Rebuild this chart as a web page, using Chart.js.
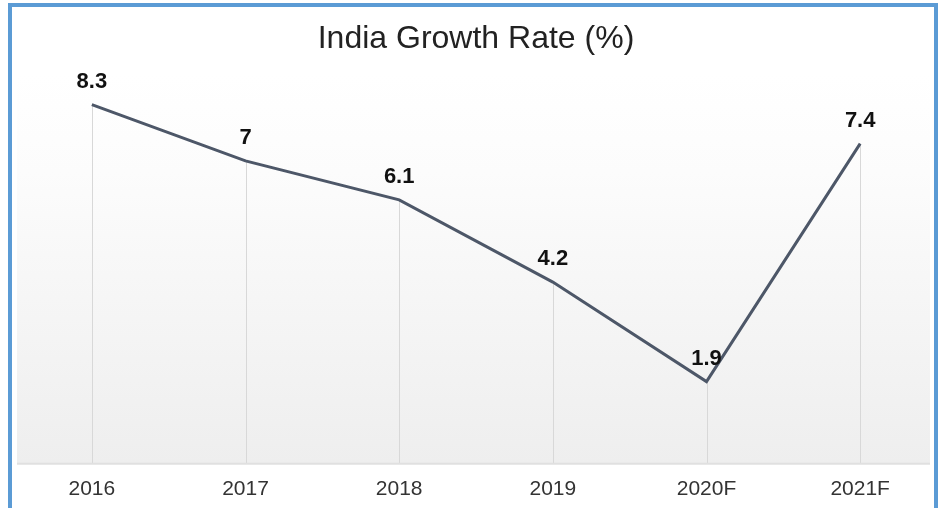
<!DOCTYPE html>
<html>
<head>
<meta charset="utf-8">
<script src="https://cdn.jsdelivr.net/npm/chart.js@4"></script>
<style>
  html, body { margin: 0; padding: 0; background: #fff; }
  #wrap { position: relative; width: 944px; height: 508px; }
  #frame {
    position: absolute; left: 8px; top: 3px; width: 922px; height: 520px;
    border: 4px solid #5b9bd5; pointer-events: none;
  }
</style>
</head>
<body>
<div id="wrap">
  <canvas id="growth" width="944" height="508"></canvas>
  <div id="frame"></div>
</div>
<script>
// ── Data ──
const YEARS  = ["2016", "2017", "2018", "2019", "2020F", "2021F"];
const GROWTH = [8.3, 7, 6.1, 4.2, 1.9, 7.4];

const LINE_COLOR = "#4d5768";
const PLOT_RIGHT = 930;   // shaded area stops short of the frame
const FONT = "'Liberation Sans', Arial, sans-serif";

// background gradient, drop lines and axis line under the series
const backdrop = {
  id: "backdrop",
  beforeDatasetsDraw(chart) {
    const { ctx, chartArea: a, scales } = chart;
    const right = Math.min(a.right, PLOT_RIGHT);
    const left = a.left + 2;

    const g = ctx.createLinearGradient(0, a.top, 0, a.bottom);
    g.addColorStop(0, "#ffffff");
    g.addColorStop(0.25, "#fcfcfc");
    g.addColorStop(1, "#eeeeee");
    ctx.save();
    ctx.fillStyle = g;
    ctx.fillRect(left, a.top, right - left, a.bottom - a.top);

    // drop lines from each point to the axis
    ctx.strokeStyle = "#d8d8d8";
    ctx.lineWidth = 1;
    GROWTH.forEach((v, i) => {
      const x = Math.round(scales.x.getPixelForValue(i)) + 0.5;
      ctx.beginPath();
      ctx.moveTo(x, scales.y.getPixelForValue(v));
      ctx.lineTo(x, a.bottom);
      ctx.stroke();
    });

    // axis line
    ctx.strokeStyle = "#e0e0e0";
    ctx.lineWidth = 2;
    ctx.beginPath();
    ctx.moveTo(left, a.bottom);
    ctx.lineTo(right, a.bottom);
    ctx.stroke();
    ctx.restore();
  }
};

// value labels above each point
const valueLabels = {
  id: "valueLabels",
  afterDatasetsDraw(chart) {
    const { ctx } = chart;
    const meta = chart.getDatasetMeta(0);
    ctx.save();
    ctx.font = "bold 22px " + FONT;
    ctx.fillStyle = "#111";
    ctx.textAlign = "center";
    ctx.textBaseline = "middle";
    meta.data.forEach((pt, i) => {
      ctx.fillText(String(GROWTH[i]), pt.x, pt.y - 23);
    });
    ctx.restore();
  }
};

new Chart(document.getElementById("growth"), {
  type: "line",
  data: {
    labels: YEARS,
    datasets: [{
      label: "India Growth Rate (%)",
      data: GROWTH,
      borderColor: LINE_COLOR,
      borderWidth: 3,
      pointRadius: 0,
      tension: 0,
      fill: false
    }]
  },
  options: {
    responsive: false,
    animation: false,
    layout: { padding: { left: 15, right: 7, top: 0, bottom: -7 } },
    plugins: {
      legend: { display: false },
      tooltip: { enabled: false },
      title: {
        display: true,
        text: "India Growth Rate (%)",
        color: "#222",
        font: { family: FONT, size: 32, weight: "normal" },
        padding: { top: 20, bottom: 16 }
      }
    },
    scales: {
      x: {
        offset: true,
        border: { display: false },
        grid: { display: false, drawTicks: false },
        ticks: {
          color: "#333",
          padding: 13,
          font: { family: FONT, size: 21 }
        }
      },
      y: {
        display: false,
        min: 0,
        max: 9
      }
    }
  },
  plugins: [backdrop, valueLabels]
});
</script>
</body>
</html>
